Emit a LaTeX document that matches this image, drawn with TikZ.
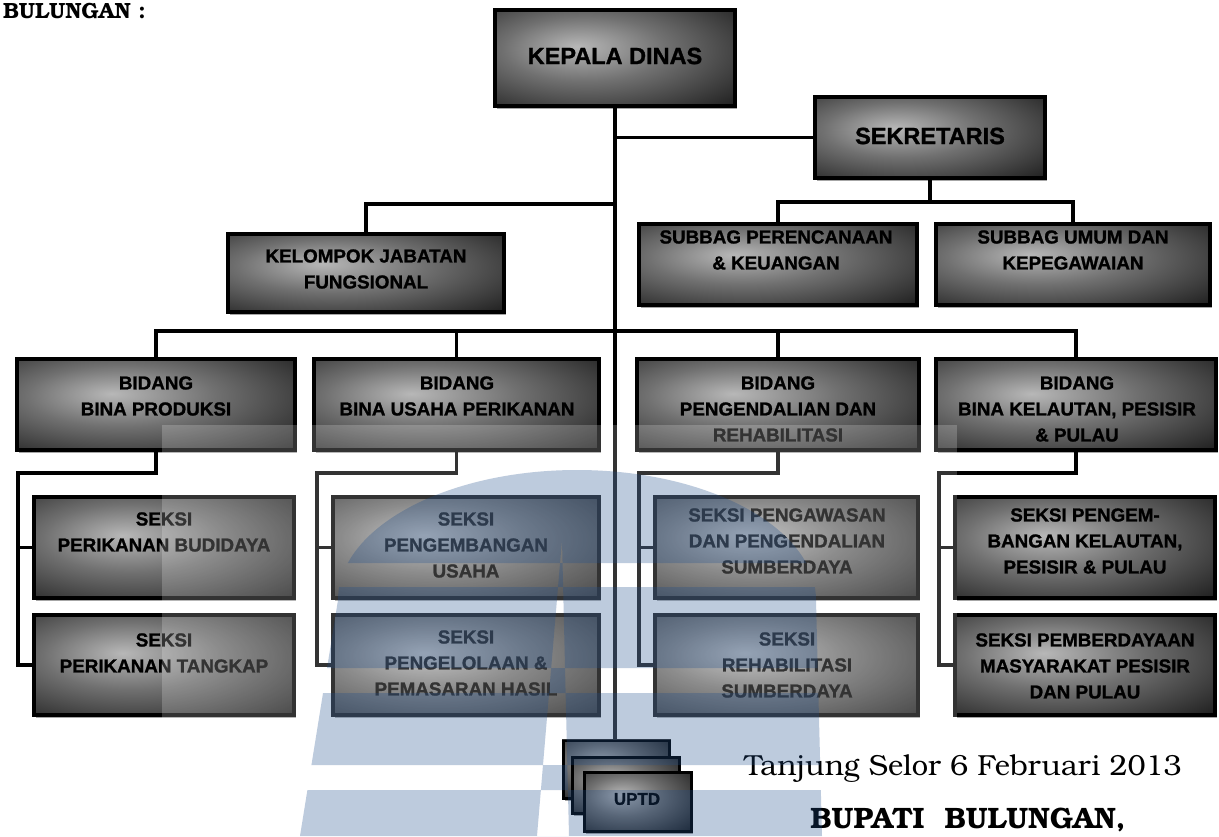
\documentclass[tikz,border=0pt]{standalone}
\usepackage{fontspec}
\setmainfont{Liberation Sans}[BoldFeatures={FakeBold=1.2}]
\newfontfamily\bookman{texgyrebonum}[Extension=.otf,UprightFont=*-regular,BoldFont=*-bold]
\usetikzlibrary{shadows}

\definecolor{boxlight}{gray}{0.72}
\definecolor{boxmid}{gray}{0.44}
\definecolor{boxdark}{gray}{0.07}
\definecolor{wmblue}{HTML}{1F4E8C}
\pgfdeclareradialshading{boxglow}{\pgfpoint{-8bp}{6bp}}{color(0bp)=(boxlight); color(17bp)=(boxmid); color(44bp)=(boxdark); color(80bp)=(boxdark)}

\tikzset{
  orgunit/.style={draw=black, line width=4pt, shading=boxglow, inner sep=0pt, outer sep=0pt,
    drop shadow={shadow xshift=2pt, shadow yshift=-3pt, opacity=0.35, fill=black}},
  unitlabel/.style={font=\bfseries\fontsize{18.8}{26}\selectfont, align=center, inner sep=0pt, text=black},
  chieflabel/.style={unitlabel, font=\bfseries\fontsize{23.5}{28}\selectfont},
  wire/.style={draw=black, line width=3.2pt},
  signtext/.style={font=\bookman\fontsize{29}{34}\selectfont, inner sep=0pt},
}

% \orgbox[style]{name}{x1}{y1}{x2}{y2}: a unit box given by its outer corners (pixel grid, y downwards)
\newcommand\orgbox[6][orgunit]{%
  \node[#1, minimum width={#5pt-#3pt-4pt}, minimum height={#6pt-#4pt-4pt}] (#2) at ({(#3+#5)/2},{(#4+#6)/2}) {};}

\begin{document}
\begin{tikzpicture}[x=1pt,y=-1pt]
\useasboundingbox (0,0) rectangle (1219,836);
\clip (0,0) rectangle (1219,836);
\fill[white] (0,0) rectangle (1219,836);

% heading in the top left corner
\node[anchor=base east, font=\bookman\bfseries\fontsize{22}{26}\selectfont, inner sep=0pt] (heading) at (146,18) {BULUNGAN :};

% ---------- boxes ----------
\orgbox{kepala}{493}{8}{737}{108}
\orgbox{sekretaris}{813}{95}{1047}{180}
\orgbox{subbagA}{637}{222}{919}{307}
\orgbox{subbagB}{934}{222}{1212}{307}
\orgbox{kelompok}{226}{232}{506}{314}

\orgbox{bidA}{15}{357}{297}{452}
\orgbox{bidB}{312}{357}{601}{452}
\orgbox{bidC}{635}{357}{921}{452}
\orgbox{bidD}{934}{357}{1218}{452}

\orgbox{sA1}{32}{495}{296}{600}
\orgbox{sB1}{331}{495}{601}{600}
\orgbox{sC1}{653}{495}{920}{600}
\orgbox{sD1}{953}{495}{1217}{600}
\orgbox{sA2}{32}{613}{296}{717}
\orgbox{sB2}{331}{613}{601}{717}
\orgbox{sC2}{653}{613}{920}{717}
\orgbox{sD2}{953}{613}{1217}{717}

\orgbox[orgunit, line width=3pt]{uptdA}{561}{738}{671}{800}
\orgbox[orgunit, line width=3pt]{uptdB}{570}{755}{681}{815}
\orgbox[orgunit, line width=3pt]{uptdC}{582}{770}{693}{833}

% ---------- labels ----------
\node[chieflabel] (kepala-t) at (615,56) {KEPALA DINAS};
\node[chieflabel] (sekretaris-t) at (930,136) {SEKRETARIS};
\node[unitlabel] (subbagA-t) at (776,250) {SUBBAG PERENCANAAN\\\& KEUANGAN};
\node[unitlabel] (subbagB-t) at (1073,250) {SUBBAG UMUM DAN\\KEPEGAWAIAN};
\node[unitlabel] (kelompok-t) at (366,269) {KELOMPOK JABATAN\\FUNGSIONAL};

\node[unitlabel] (bidA-t) at (156,396) {BIDANG\\BINA PRODUKSI};
\node[unitlabel] (bidB-t) at (457,396) {BIDANG\\BINA USAHA PERIKANAN};
\node[unitlabel] (bidC-t) at (778,409) {BIDANG\\PENGENDALIAN DAN\\REHABILITASI};
\node[unitlabel] (bidD-t) at (1077,409) {BIDANG\\BINA KELAUTAN, PESISIR\\\& PULAU};

\node[unitlabel] (sA1-t) at (164,532) {SEKSI\\PERIKANAN BUDIDAYA};
\node[unitlabel] (sB1-t) at (466,545) {SEKSI\\PENGEMBANGAN\\USAHA};
\node[unitlabel] (sC1-t) at (787,541) {SEKSI PENGAWASAN\\DAN PENGENDALIAN\\SUMBERDAYA};
\node[unitlabel] (sD1-t) at (1085,541) {SEKSI PENGEM-\\BANGAN KELAUTAN,\\PESISIR \& PULAU};
\node[unitlabel] (sA2-t) at (164,653) {SEKSI\\PERIKANAN TANGKAP};
\node[unitlabel] (sB2-t) at (466,663) {SEKSI\\PENGELOLAAN \&\\PEMASARAN HASIL};
\node[unitlabel] (sC2-t) at (787,665) {SEKSI\\REHABILITASI\\SUMBERDAYA};
\node[unitlabel] (sD2-t) at (1085,666) {SEKSI PEMBERDAYAAN\\MASYARAKAT PESISIR\\DAN PULAU};

\node[unitlabel, font=\bfseries\fontsize{17}{20}\selectfont] (uptd-t) at (637,799) {UPTD};

% ---------- connectors ----------
\coordinate (yjab) at (0,204);
\coordinate (ysub) at (0,202);
\coordinate (ybid) at (0,331);
\coordinate (yrail) at (0,473);

\draw[wire] (kepala.south) -- (kepala.south |- uptdA.north);
\draw[wire] (sekretaris.west) -- (sekretaris.west -| kepala.south);
\draw[wire] (kelompok.north) -- (kelompok.north |- yjab) -- (kepala.south |- yjab);
\draw[wire] (sekretaris.south) -- (sekretaris.south |- ysub);
\draw[wire] (subbagA.north) -- (subbagA.north |- ysub) -- (subbagB.north |- ysub) -- (subbagB.north);

\draw[wire] (bidA.north) -- (bidA.north |- ybid) -- (bidD.north |- ybid) -- (bidD.north);
\draw[wire] (bidB.north) -- (bidB.north |- ybid);
\draw[wire] (bidC.north) -- (bidC.north |- ybid);

\foreach \b/\s in {bidA/sA, bidB/sB, bidC/sC, bidD/sD}{
  \draw[wire] (\b.south) -- (\b.south |- yrail) -| ([xshift=-16pt]\s2.west) -- (\s2.west);
  \draw[wire] ([xshift=-16pt]\s1.west) -- (\s1.west);
}

% ---------- signature ----------
\node[signtext, anchor=base] (tanggal) at (963,775) {Tanjung Selor 6 Februari 2013};
\node[signtext, font=\bookman\bfseries\fontsize{29.5}{34}\selectfont, anchor=base] (bupati) at (968,828) {BUPATI\ \ BULUNGAN,};

% ---------- faint stamp over the chart ----------
\fill[white, opacity=0.2] (162,425) rectangle (957,740);
\begin{scope}
  \clip (300,836) -- (338,600) arc[start angle=180, end angle=0, x radius=239pt, y radius=130pt] -- (822,836) -- cycle;
  \fill[wmblue, opacity=0.29, even odd rule]
    (250,440) rectangle (860,840)
    (250,563) rectangle (860,587)
    (250,668) rectangle (860,693)
    (250,765) rectangle (860,790)
    (537,836) -- (562,540) -- (569,836) -- cycle;
\end{scope}
\end{tikzpicture}
\end{document}
